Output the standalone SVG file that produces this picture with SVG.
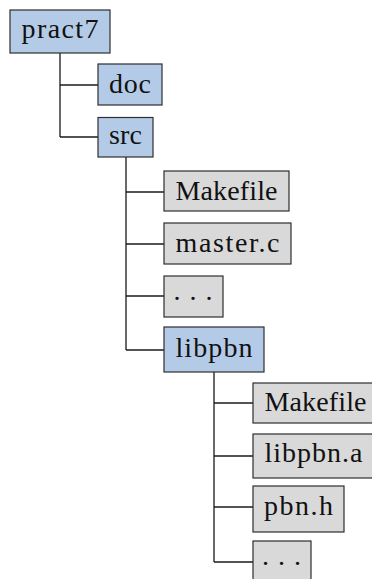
<svg xmlns="http://www.w3.org/2000/svg" width="372" height="579" viewBox="0 0 372 579">
<style>
.bg{fill:#ffffff}
.dir rect{fill:#b4cbe8;stroke:#2e2e2e;stroke-width:1.2}
.file rect{fill:#d9d9d9;stroke:#2e2e2e;stroke-width:1.2}
text{font-family:"Liberation Serif","DejaVu Serif",serif;font-size:28px;fill:#111;text-anchor:middle}
.conn line{stroke:#1a1a1a;stroke-width:1.3}
</style>
<rect class="bg" x="0" y="0" width="372" height="579"/>
<g class="conn" id="connectors">
<line x1="60" y1="53" x2="60" y2="137"/>
<line x1="60" y1="85" x2="98" y2="85"/>
<line x1="60" y1="137" x2="98" y2="137"/>
<line x1="126" y1="157" x2="126" y2="350"/>
<line x1="126" y1="192" x2="164" y2="192"/>
<line x1="126" y1="244" x2="164" y2="244"/>
<line x1="126" y1="296" x2="164" y2="296"/>
<line x1="126" y1="350" x2="164" y2="350"/>
<line x1="214" y1="372" x2="214" y2="562"/>
<line x1="214" y1="403" x2="253" y2="403"/>
<line x1="214" y1="456" x2="253" y2="456"/>
<line x1="214" y1="507" x2="253" y2="507"/>
<line x1="214" y1="562" x2="253" y2="562"/>
</g>
<g class="dir" id="pract7"><rect x="10" y="10" width="100" height="43"/><text x="60" y="38" textLength="77">pract7</text></g>
<g class="dir" id="doc"><rect x="98" y="64" width="64" height="41"/><text x="130" y="93" textLength="42">doc</text></g>
<g class="dir" id="src"><rect x="98" y="117.5" width="55" height="39.5"/><text x="125.5" y="144" textLength="33">src</text></g>
<g class="file" id="makefile1"><rect x="164" y="171" width="125" height="40"/><text x="226.5" y="200" textLength="102">Makefile</text></g>
<g class="file" id="masterc"><rect x="164" y="223" width="127" height="41"/><text x="227.5" y="252" textLength="104">master.c</text></g>
<g class="file" id="dots1"><rect x="164" y="276" width="59" height="41"/><text x="197.5" y="300" letter-spacing="9">...</text></g>
<g class="dir" id="libpbn"><rect x="164" y="327" width="100" height="45"/><text x="214" y="357" textLength="77">libpbn</text></g>
<g class="file" id="makefile2"><rect x="253" y="383" width="125" height="40"/><text x="315.5" y="411" textLength="102">Makefile</text></g>
<g class="file" id="libpbna"><rect x="253" y="434" width="121" height="44"/><text x="313.5" y="462" textLength="98">libpbn.a</text></g>
<g class="file" id="pbnh"><rect x="253" y="486" width="91" height="46"/><text x="298.5" y="515" textLength="69">pbn.h</text></g>
<g class="file" id="dots2"><rect x="253" y="541" width="58" height="45"/><text x="286" y="565" letter-spacing="9">...</text></g>
</svg>
